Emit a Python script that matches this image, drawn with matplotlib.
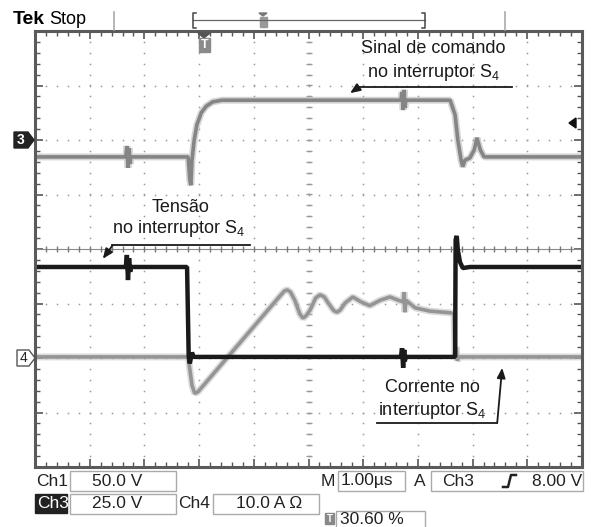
import matplotlib.pyplot as plt
import numpy as np
from matplotlib.patches import Rectangle, Polygon
from matplotlib.transforms import Affine2D

plt.rcParams['font.family'] = ['Liberation Sans', 'DejaVu Sans']

# traces: x in divisions (1.00 us/div), y in vertical divisions (centre = 0)
# Ch3 - sinal de comando
cmd_t = [0, 1.66, 1.68, 1.70, 1.72, 1.74, 1.75, 2.80, 2.83, 2.85, 2.87, 2.91, 2.96,
         3.04, 3.13, 3.25, 3.42, 6.69, 6.71, 6.73, 6.75, 6.76, 6.78, 7.59, 7.68,
         7.73, 7.79, 7.82, 7.86, 7.95, 8.03, 8.08, 8.14, 8.21, 10]
cmd_v = [1.69, 1.69, 1.89, 1.49, 1.85, 1.56, 1.69, 1.69, 1.27, 1.17, 1.63, 2.00, 2.28,
         2.50, 2.62, 2.70, 2.73, 2.73, 2.88, 2.55, 2.92, 2.59, 2.73, 2.73, 2.46,
         2.00, 1.63, 1.51, 1.63, 1.67, 1.82, 2.04, 1.82, 1.69, 1.69]

# Ch1 - tensao no interruptor S4
vs4_t = [0, 1.66, 1.68, 1.70, 1.72, 1.74, 1.75, 2.78, 2.81, 2.83, 2.87, 2.90,
         6.69, 6.71, 6.73, 6.75, 6.76, 6.78, 7.68, 7.69, 7.71, 7.73, 7.77, 7.82, 7.95, 10]
vs4_v = [-0.33, -0.33, -0.11, -0.57, -0.17, -0.42, -0.33, -0.33, -1.98, -2.10, -1.90, -1.98,
         -1.98, -1.82, -2.18, -1.85, -2.06, -1.98, -1.98, 0.17, 0.24, -0.02, -0.24, -0.35, -0.33, -0.33]

# Ch4 - corrente no interruptor S4
is4_t = [0, 2.80, 2.82, 2.87, 2.92, 2.98, 4.48, 4.56, 4.61, 4.67, 4.75, 4.84, 4.90, 4.96,
         5.03, 5.13, 5.21, 5.29, 5.36, 5.46, 5.52, 5.58, 5.67, 5.81, 5.96, 6.12, 6.31,
         6.49, 6.64, 6.73, 6.75, 6.76, 6.78, 6.95, 7.22, 7.59, 7.66, 7.68, 7.70, 7.72,
         7.75, 10]
is4_v = [-1.98, -1.98, -2.13, -2.50, -2.65, -2.62, -0.86, -0.77, -0.75, -0.79, -0.94, -1.19,
         -1.27, -1.22, -1.12, -0.90, -0.84, -0.88, -0.99, -1.13, -1.16, -1.12, -0.99, -0.88,
         -0.97, -1.04, -0.94, -0.88, -0.94, -0.97, -0.79, -1.16, -0.94, -1.08, -1.14, -1.17,
         -1.19, -1.98, -1.80, -2.05, -1.98, -1.98]

W, H = 591, 527
fig = plt.figure(figsize=(W / 100, H / 100), dpi=100)
pix = Affine2D().scale(1 / W, -1 / H).translate(0, 1) + fig.transFigure

ax = fig.add_axes([35 / W, 1 - 467 / H, 547 / W, 436 / H])
ax.set_xlim(0, 10)
ax.set_ylim(-4, 4)

# graticule
hmin = np.arange(0, 10.01, 0.2)
vmin = np.arange(-4, 4.01, 0.2)
for gx in range(1, 10):
    ax.plot(np.full(len(vmin), float(gx)), vmin, ls='none', marker='s', ms=1.1,
            color='#9a9a9a', mew=0)
for gy in range(-3, 4):
    if gy == 0:
        continue
    ax.plot(hmin, np.full(len(hmin), float(gy)), ls='none', marker='s', ms=1.1,
            color='#9a9a9a', mew=0)
ax.axhline(0, color='#8a8a8a', lw=0.8)
ax.plot(hmin, np.zeros(len(hmin)), ls='none', marker='|', ms=5, mew=1, color='#777')
ax.plot(np.full(len(vmin), 5.0), vmin, ls='none', marker='_', ms=5, mew=1, color='#999')

ax.set_xticks(np.arange(0, 11, 1))
ax.set_yticks(np.arange(-4, 5, 1))
ax.set_xticks(hmin, minor=True)
ax.set_yticks(vmin, minor=True)
ax.tick_params(which='both', direction='in', top=True, right=True,
               labelbottom=False, labelleft=False, color='#555')
ax.tick_params(which='major', length=6, width=1.2)
ax.tick_params(which='minor', length=3.5, width=1)
for sp in ax.spines.values():
    sp.set_color('#5a5a5a')
    sp.set_linewidth(2.2)

# traces
ax.plot(cmd_t, cmd_v, color='#b4b4b4', lw=5, alpha=0.55, solid_joinstyle='bevel')
ax.plot(cmd_t, cmd_v, color='#858585', lw=2.6, solid_joinstyle='bevel')
ax.plot(is4_t, is4_v, color='#c0c0c0', lw=5, alpha=0.55, solid_joinstyle='bevel')
ax.plot(is4_t, is4_v, color='#959595', lw=2.6, solid_joinstyle='bevel')
ax.plot(vs4_t, vs4_v, color='#1a1a1a', lw=3.2, solid_joinstyle='bevel')

# annotations
tkw = dict(fontsize=13, ha='center', va='center', color='#1a1a1a')
akw = dict(arrowstyle='-|>,head_length=0.6,head_width=0.25', color='#1a1a1a', lw=1.3,
           shrinkA=0, shrinkB=0)
ax.text(7.28, 3.67, 'Sinal de comando', **tkw)
ax.text(7.28, 3.23, r'no interruptor S$_\mathregular{4}$', **tkw)
ax.plot([8.72, 5.90], [2.97, 2.97], color='#1a1a1a', lw=1.3)
ax.annotate('', xy=(5.76, 2.86), xytext=(5.92, 2.97), arrowprops=akw)

ax.text(2.67, 0.77, 'Tensão', **tkw)
ax.text(2.63, 0.37, r'no interruptor S$_\mathregular{4}$', **tkw)
ax.plot([3.93, 1.40], [0.07, 0.07], color='#1a1a1a', lw=1.3)
ax.annotate('', xy=(1.24, -0.18), xytext=(1.42, 0.07), arrowprops=akw)

ax.text(7.26, -2.55, 'Corrente no', **tkw)
ax.text(7.26, -2.97, r'interruptor S$_\mathregular{4}$', **tkw)
ax.plot([6.25, 8.45], [-3.19, -3.19], color='#1a1a1a', lw=1.3)
ax.annotate('', xy=(8.54, -2.18), xytext=(8.45, -3.19), arrowprops=akw)

# trigger level marker (right)
ax.add_patch(Polygon([(576, 118), (576, 128), (569, 123)], closed=True,
                     color='#111', transform=pix, clip_on=False))

# trigger position marker (top)
fig.patches.append(Polygon([(198, 33), (210, 33), (204, 38)], closed=True,
                           color='#555', transform=pix))
fig.patches.append(Rectangle((199, 38), 11, 14, color='#8a8a8a', transform=pix))
fig.text(204.5, 45, 'T', transform=pix, color='white', fontsize=9, fontweight='bold',
         ha='center', va='center')

# channel markers
fig.patches.append(Polygon([(14, 132), (28, 132), (34, 140), (28, 148), (14, 148)],
                           closed=True, color='#222', transform=pix))
fig.text(21, 140.5, '3', transform=pix, color='white', fontsize=10, fontweight='bold',
         ha='center', va='center')
fig.patches.append(Polygon([(17, 350), (29, 350), (35, 358), (29, 366), (17, 366)],
                           closed=True, facecolor='white', edgecolor='#555', lw=1,
                           transform=pix))
fig.text(23, 358.5, '4', transform=pix, color='#222', fontsize=10,
         ha='center', va='center')

# header
fig.text(13, 20, 'Tek', transform=pix, fontsize=14, fontweight='bold', va='center')
fig.text(49, 20, 'Stop', transform=pix, fontsize=13, va='center')
for xs in (114, 505):
    fig.lines.append(plt.Line2D([xs, xs], [12, 30], color='#aaa', lw=1.2, transform=pix))
fig.lines.append(plt.Line2D([193, 425], [20, 20], color='#666', lw=0.9, transform=pix))
fig.lines.append(plt.Line2D([196, 193, 193, 196], [13, 13, 28, 28], color='#444', lw=1.1,
                            transform=pix))
fig.lines.append(plt.Line2D([422, 425, 425, 422], [13, 13, 28, 28], color='#444', lw=1.1,
                            transform=pix))
fig.patches.append(Polygon([(259, 13), (267, 13), (263, 16)], closed=True, color='#777',
                           transform=pix))
fig.patches.append(Rectangle((259.5, 17), 7, 10, color='#999', transform=pix))

# status lines
skw = dict(transform=pix, fontsize=12.5, va='center', color='#222')
bkw = dict(fill=False, edgecolor='#aaa', lw=1, transform=pix)
fig.text(36, 481, 'Ch1', **skw)
fig.patches.append(Rectangle((70, 471), 106, 20, **bkw))
fig.text(92, 481, '50.0 V', **skw)
fig.text(321, 481, 'M', **skw)
fig.patches.append(Rectangle((338, 471), 67, 20, **bkw))
fig.text(341, 481, '1.00µs', **skw)
fig.text(414, 481, 'A', **skw)
fig.patches.append(Rectangle((431, 471), 152, 20, **bkw))
fig.text(442, 481, 'Ch3', **skw)
fig.lines.append(plt.Line2D([503, 508, 511, 516], [487, 487, 475, 475], color='#222',
                            lw=1.8, transform=pix))
fig.text(582, 481, '8.00 V', ha='right', **skw)

fig.patches.append(Rectangle((35, 494), 32, 19, color='#222', transform=pix))
fig.text(37, 503.5, 'Ch3', transform=pix, fontsize=12.5, va='center', color='white')
fig.patches.append(Rectangle((70, 494), 106, 20, **bkw))
fig.text(92, 504, '25.0 V', **skw)
fig.text(178, 504, 'Ch4', **skw)
fig.patches.append(Rectangle((213, 494), 106, 20, **bkw))
fig.text(236, 504, '10.0 A Ω', **skw)

fig.patches.append(Rectangle((325, 513), 9, 11, color='#888', transform=pix))
fig.text(329.5, 518.5, 'T', transform=pix, color='white', fontsize=7, fontweight='bold',
         ha='center', va='center')
fig.patches.append(Rectangle((336, 511), 89, 18, **bkw))
fig.text(340, 519, '30.60 %', **skw)

fig.savefig('out.png', dpi=100)
